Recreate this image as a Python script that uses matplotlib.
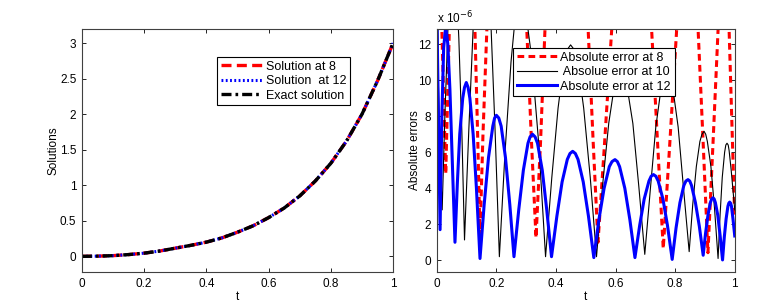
import matplotlib
matplotlib.use('Agg')
import matplotlib.pyplot as plt
import numpy as np

plt.rcParams['font.family'] = ['Liberation Sans', 'DejaVu Sans']
plt.rcParams['font.size'] = 8.5

# left panel: solutions
t_sol = [0.0, 0.05, 0.1, 0.15, 0.2, 0.25, 0.3, 0.35, 0.4, 0.45, 0.5, 0.55,
         0.6, 0.65, 0.7, 0.75, 0.8, 0.85, 0.9, 0.95, 1.0]
exact = [0.0, 0.003, 0.01, 0.025, 0.045, 0.075, 0.115, 0.155, 0.2, 0.26,
         0.34, 0.43, 0.545, 0.68, 0.85, 1.06, 1.31, 1.62, 2.0, 2.47, 3.0]
sol8 = list(exact)
sol12 = list(exact)

# right panel: absolute errors (units of 1e-6)
red_t = [0.000, 0.017, 0.030, 0.042, 0.060, 0.085, 0.110, 0.128, 0.137, 0.145,
         0.155, 0.168, 0.190, 0.235, 0.280,
         0.302, 0.318, 0.333, 0.348, 0.363, 0.390, 0.435, 0.480,
         0.508, 0.525, 0.541, 0.563, 0.587, 0.610, 0.655, 0.700,
         0.721, 0.741, 0.760, 0.782, 0.805, 0.830, 0.855,
         0.877, 0.894, 0.910, 0.927, 0.944, 0.962, 0.981, 1.000]
red_v = [23.0, 12.8, 4.8, 12.8, 22.0, 28.0, 22.0, 12.8, 7.0, 1.4,
         7.0, 12.8, 22.0, 30.0, 22.0,
         12.8, 6.5, 1.25, 6.5, 12.8, 22.0, 28.0, 22.0,
         12.8, 6.5, 1.0, 6.5, 12.8, 20.0, 26.0, 20.0,
         12.8, 6.5, 0.65, 6.5, 12.8, 20.0, 20.0,
         12.8, 6.5, 0.42, 6.5, 12.8, 19.0, 12.8, 2.3]

black_t = [0.000, 0.005, 0.012, 0.018, 0.027, 0.037, 0.046, 0.056, 0.065, 0.074, 0.084, 0.093,
           0.1076, 0.1223, 0.137, 0.1515, 0.166, 0.181, 0.1954, 0.210,
           0.229, 0.249, 0.265, 0.282, 0.300, 0.318, 0.342, 0.365,
           0.386, 0.407, 0.427, 0.438, 0.449, 0.461, 0.472, 0.493, 0.515, 0.536,
           0.556, 0.577, 0.597, 0.617, 0.637, 0.658, 0.678, 0.698,
           0.717, 0.735, 0.754, 0.7725, 0.791, 0.810, 0.828, 0.847,
           0.859, 0.871, 0.883, 0.890, 0.897, 0.9025, 0.908, 0.920, 0.932, 0.944,
           0.951, 0.958, 0.966, 0.970, 0.974, 0.978, 0.981, 0.988, 0.994, 1.000]
black_v = [20.0, 10.0, 5.5, 2.8, 8.0, 12.7, 16.0, 17.0, 15.5, 12.3, 7.2, 1.13,
           7.3, 13.0, 17.0, 18.5, 17.0, 13.4, 7.3, 0.2,
           6.0, 11.0, 13.8, 14.5, 13.6, 11.3, 6.5, 0.2,
           4.6, 8.45, 11.05, 11.7, 11.96, 11.7, 11.05, 8.45, 4.6, 0.2,
           4.1, 7.6, 9.8, 10.6, 9.8, 7.6, 4.1, 0.33,
           4.0, 7.4, 9.7, 10.5, 9.7, 7.4, 4.0, 0.48,
           3.1, 5.2, 6.6, 7.0, 7.16, 7.0, 6.6, 5.2, 2.9, 0.1,
           2.6, 4.6, 6.0, 6.4, 6.5, 6.4, 6.1, 5.0, 3.9, 2.8]

blue_t = [0.000, 0.011, 0.017, 0.023, 0.030, 0.037, 0.044, 0.052, 0.061,
          0.069, 0.077, 0.087, 0.093, 0.099, 0.105, 0.111, 0.122, 0.133, 0.145,
          0.159, 0.1735, 0.188, 0.194, 0.200, 0.208, 0.216, 0.2305, 0.245, 0.259,
          0.275, 0.2905, 0.306, 0.313, 0.321, 0.330, 0.338, 0.354, 0.369, 0.385,
          0.403, 0.4205, 0.438, 0.447, 0.456, 0.465, 0.474, 0.4915, 0.509, 0.527,
          0.544, 0.5615, 0.579, 0.588, 0.598, 0.606, 0.6135, 0.631, 0.648, 0.665,
          0.681, 0.696, 0.712, 0.7195, 0.727, 0.735, 0.743, 0.759, 0.774, 0.790,
          0.803, 0.816, 0.829, 0.836, 0.843, 0.849, 0.855, 0.868, 0.881, 0.894,
          0.902, 0.910, 0.918, 0.9225, 0.927, 0.931, 0.935, 0.943, 0.951, 0.959,
          0.965, 0.971, 0.977, 0.980, 0.983, 0.986, 0.989, 0.994, 1.000]
blue_v = [14.0, 1.7, 8.0, 11.8, 13.0, 12.0, 9.5, 5.5, 1.0,
          4.3, 7.0, 9.0, 9.6, 9.87, 9.6, 9.0, 7.0, 4.0, 0.1,
          3.1, 5.7, 7.45, 7.9, 8.05, 7.9, 7.45, 5.7, 3.1, 0.2,
          2.8, 5.0, 6.5, 6.85, 7.0, 6.85, 6.5, 5.0, 2.8, 0.2,
          2.45, 4.35, 5.6, 5.93, 6.05, 5.93, 5.6, 4.35, 2.45, 0.15,
          2.25, 4.0, 5.2, 5.48, 5.59, 5.48, 5.2, 4.0, 2.25, 0.15,
          1.95, 3.4, 4.4, 4.67, 4.76, 4.67, 4.4, 3.4, 1.95, 0.05,
          1.8, 3.2, 4.15, 4.4, 4.48, 4.4, 4.15, 3.2, 1.9, 0.28,
          1.5, 2.5, 3.2, 3.4, 3.47, 3.4, 3.2, 2.5, 1.35, 0.02,
          1.3, 2.3, 3.0, 3.17, 3.23, 3.17, 3.0, 2.3, 1.35]

fig = plt.figure(figsize=(7.8, 3.07), dpi=100)

# left: solutions
ax1 = fig.add_axes([0.105, 0.114, 0.399, 0.792])
ax1.plot(t_sol, sol8, color='red', lw=2.4, dashes=(3, 1.6), label='Solution at 8')
ax1.plot(t_sol, sol12, color='blue', lw=2.2, dashes=(0.6, 0.8), label='Solution  at 12')
ax1.plot(t_sol, exact, color='black', lw=2.4, dashes=(3, 1.2, 0.8, 1.2), label='Exact solution')
ax1.set_xlim(0, 1)
ax1.set_ylim(-0.22, 3.2)
ax1.set_xticks([0, 0.2, 0.4, 0.6, 0.8, 1])
ax1.set_xticklabels(['0', '0.2', '0.4', '0.6', '0.8', '1'])
ax1.set_yticks([0, 0.5, 1, 1.5, 2, 2.5, 3])
ax1.set_yticklabels(['0', '0.5', '1', '1.5', '2', '2.5', '3'])
ax1.set_xlabel('t', labelpad=1)
ax1.set_ylabel('Solutions', labelpad=0)
leg1 = ax1.legend(loc='upper left', bbox_to_anchor=(0.434, 0.885), fancybox=False,
                  edgecolor='black', framealpha=1, handlelength=3.3,
                  borderpad=0.3, labelspacing=0.2, handletextpad=0.3,
                  borderaxespad=0, fontsize=9)
leg1.get_frame().set_linewidth(0.8)

# right: absolute errors
ax2 = fig.add_axes([0.560, 0.114, 0.382, 0.792])
ax2.plot(red_t, red_v, color='red', lw=2.2, dashes=(2.2, 1.4), label='Absolute error at 8')
ax2.plot(black_t, black_v, color='black', lw=0.8, label=' Absolue error at 10')
ax2.plot(blue_t, blue_v, color='blue', lw=2.2, label='Absolute error at 12')
ax2.set_xlim(0, 1)
ax2.set_ylim(-0.65, 12.85)
ax2.set_xticks([0, 0.2, 0.4, 0.6, 0.8, 1])
ax2.set_xticklabels(['0', '0.2', '0.4', '0.6', '0.8', '1'])
ax2.set_yticks([0, 2, 4, 6, 8, 10, 12])
ax2.set_xlabel('t', labelpad=1)
ax2.set_ylabel('Absolute errors', labelpad=-2)
ax2.text(0.0, 1.01, 'x 10$^{-6}$', transform=ax2.transAxes, ha='left', va='bottom', fontsize=8.5)
leg2 = ax2.legend(loc='upper left', bbox_to_anchor=(0.255, 0.922), fancybox=False,
                  edgecolor='black', framealpha=1, handlelength=3.2,
                  borderpad=0.3, labelspacing=0.2, handletextpad=0.3,
                  borderaxespad=0, fontsize=9)
leg2.get_frame().set_linewidth(0.8)

for ax in (ax1, ax2):
    ax.tick_params(direction='in', top=True, right=True, length=3, width=0.6, pad=4)
    for s in ax.spines.values():
        s.set_linewidth(0.8)
        s.set_color('#404040')

fig.savefig('out.png', dpi=100)
